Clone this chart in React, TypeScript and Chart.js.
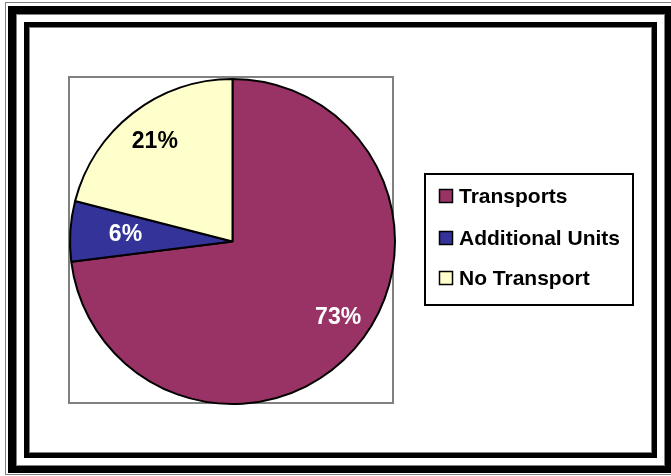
import React, { useEffect, useRef } from "react";
import { Chart, registerables } from "chart.js";

Chart.register(...registerables);

const categories = ["Transports", "Additional Units", "No Transport"];
const shares = [73, 6, 21];
const sliceColors = ["#993366", "#333399", "#FFFFCC"];
const labelColors = ["#FFFFFF", "#FFFFFF", "#000000"];

const FONT = "'Liberation Sans', Arial, sans-serif";

const plotFramePlugin = {
  id: "plotFrame",
  beforeDatasetsDraw(chart: any) {
    const { ctx, chartArea } = chart;
    ctx.save();
    ctx.strokeStyle = "#808080";
    ctx.lineWidth = 2;
    ctx.strokeRect(chartArea.left, chartArea.top - 1, chartArea.width - 3, chartArea.height - 1);
    ctx.restore();
  },
};

const sliceLabelPlugin = {
  id: "sliceLabels",
  afterDatasetsDraw(chart: any) {
    const { ctx } = chart;
    const meta = chart.getDatasetMeta(0);
    const radiusFactor = [0.8, 0.66, 0.78];
    const angleShift = [-0.1, 0, 0];
    ctx.save();
    ctx.font = `bold 23px ${FONT}`;
    ctx.textAlign = "center";
    ctx.textBaseline = "middle";
    meta.data.forEach((arc: any, i: number) => {
      const { x, y, startAngle, endAngle, outerRadius } = arc.getProps(
        ["x", "y", "startAngle", "endAngle", "outerRadius"],
        true
      );
      const mid = (startAngle + endAngle) / 2 + angleShift[i];
      const r = outerRadius * radiusFactor[i];
      ctx.fillStyle = labelColors[i];
      ctx.fillText(`${shares[i]}%`, x + Math.cos(mid) * r, y + Math.sin(mid) * r);
    });
    ctx.restore();
  },
};

const boxLegendPlugin = {
  id: "boxLegend",
  afterDraw(chart: any) {
    const { ctx } = chart;
    const labels: string[] = chart.data.labels;
    const colors: string[] = chart.data.datasets[0].backgroundColor;
    const bx = 425, by = 174, bw = 208, bh = 131;
    ctx.save();
    ctx.fillStyle = "#FFFFFF";
    ctx.fillRect(bx, by, bw, bh);
    ctx.strokeStyle = "#000000";
    ctx.lineWidth = 2;
    ctx.strokeRect(bx, by, bw, bh);
    ctx.font = `bold 21px ${FONT}`;
    ctx.textBaseline = "middle";
    ctx.textAlign = "left";
    const rowY = [196, 238, 278];
    labels.forEach((lab, i) => {
      const cy = rowY[i];
      ctx.fillStyle = colors[i];
      ctx.fillRect(439, cy - 7, 14, 14);
      ctx.lineWidth = 1.5;
      ctx.strokeStyle = "#000000";
      ctx.strokeRect(439.5, cy - 6.5, 13, 13);
      ctx.fillStyle = "#000000";
      ctx.fillText(lab, 459, cy + 1);
    });
    ctx.restore();
  },
};

export default function App() {
  const canvasRef = useRef<HTMLCanvasElement | null>(null);

  useEffect(() => {
    document.body.style.margin = "0";
    const canvas = canvasRef.current;
    if (!canvas) return;
    const chart = new Chart(canvas, {
      type: "pie",
      data: {
        labels: categories,
        datasets: [
          {
            data: shares,
            backgroundColor: sliceColors,
            borderColor: "#000000",
            borderWidth: 2,
          },
        ],
      },
      options: {
        responsive: false,
        animation: false,
        devicePixelRatio: 1,
        layout: { padding: { left: 69, top: 78, right: 275, bottom: 71 } },
        plugins: {
          legend: { display: false },
          tooltip: { enabled: false },
        },
      },
      plugins: [plotFramePlugin, sliceLabelPlugin, boxLegendPlugin],
    });
    return () => chart.destroy();
  }, []);

  const abs: React.CSSProperties = { position: "absolute", boxSizing: "border-box" };

  return (
    <div
      style={{
        position: "fixed",
        left: 0,
        top: 0,
        width: 671,
        height: 476,
        overflow: "hidden",
        background: "#FFFFFF",
      }}
    >
      <div style={{ ...abs, left: 5, top: 2, width: 690, height: 473, border: "1px solid #808080" }} />
      <div
        style={{
          ...abs,
          left: 8,
          top: 6,
          width: 665,
          height: 467,
          borderStyle: "solid",
          borderColor: "#000000",
          borderWidth: "8px 8px 7px 8px",
          boxShadow: "inset 0 0 0 1px #808080",
        }}
      />
      <div
        style={{
          ...abs,
          left: 24,
          top: 22,
          width: 633,
          height: 436,
          border: "5px solid #000000",
          boxShadow: "inset 0 0 0 1px #808080",
        }}
      />
      <canvas
        ref={canvasRef}
        width={671}
        height={476}
        style={{ position: "absolute", left: 0, top: 0, width: 671, height: 476 }}
      />
    </div>
  );
}
